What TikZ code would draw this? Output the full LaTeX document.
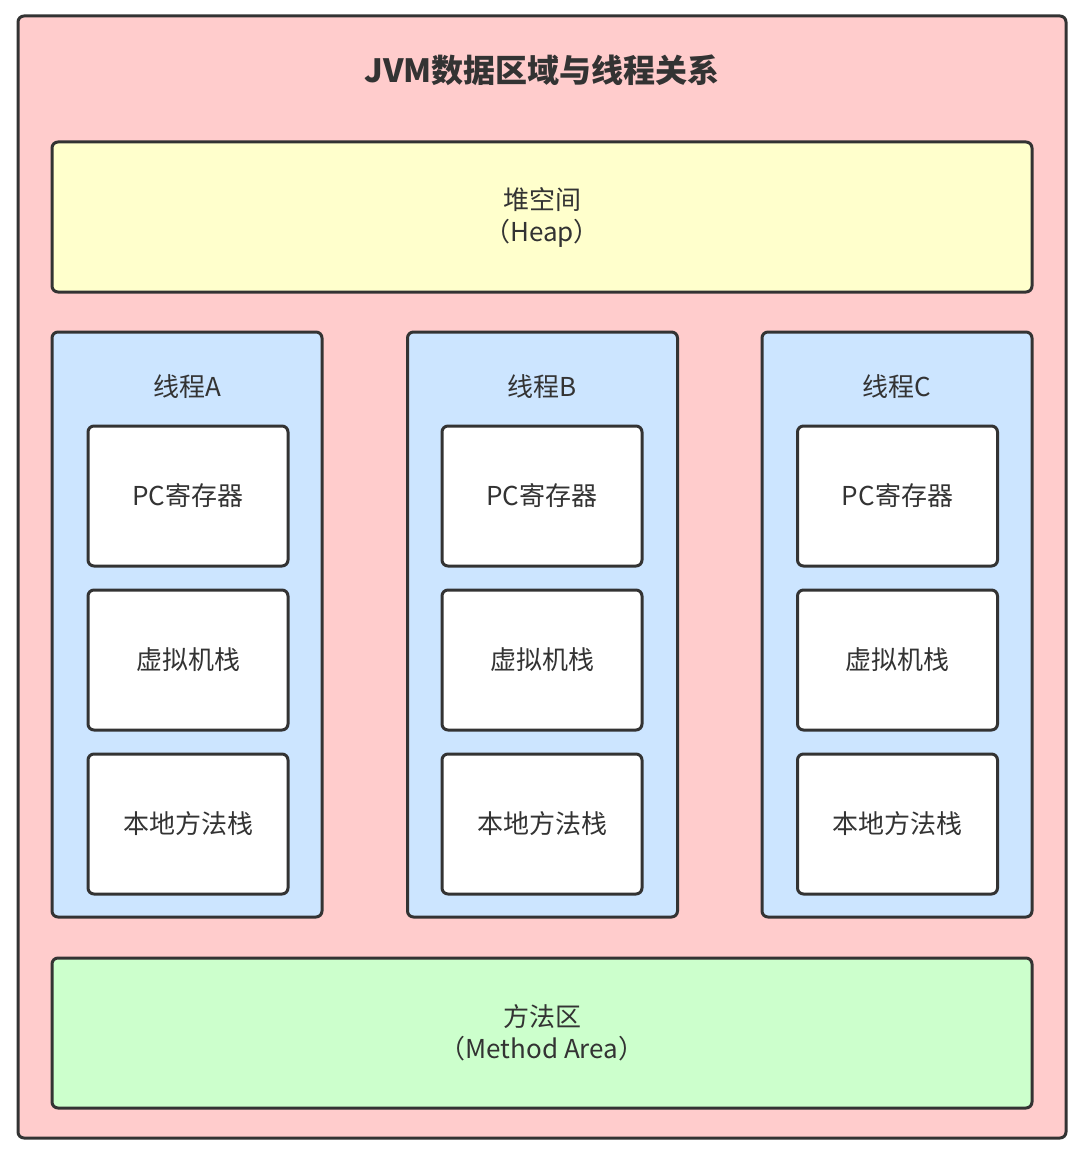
\documentclass[tikz,border=0pt]{standalone}
\usepackage{fontspec}
\setmainfont{Noto Sans CJK SC}
\usetikzlibrary{positioning}

\definecolor{linegray}{HTML}{333333}
\definecolor{jvmred}{HTML}{FFCCCC}
\definecolor{heapyellow}{HTML}{FFFFCC}
\definecolor{threadblue}{HTML}{CCE5FF}
\definecolor{methodgreen}{HTML}{CCFFCC}

\begin{document}
\begin{tikzpicture}[
            x=1pt,
            y=-1pt,
            every node/.style={
                    text=linegray,
                    align=center,
                    font=\fontsize{26}{32}\selectfont
                },
            box/.style={
                    rectangle,
                    rounded corners=6pt,
                    draw=linegray,
                    line width=3pt,
                    inner sep=0pt
                },
            jvm/.style={
                    box,
                    fill=jvmred,
                    minimum width=1048pt,
                    minimum height=1122pt
                },
            area/.style={
                    box,
                    minimum width=980pt,
                    minimum height=150pt
                },
            thread/.style={
                    box,
                    fill=threadblue,
                    minimum width=270pt,
                    minimum height=585pt
                },
            part/.style={
                    box,
                    fill=white,
                    minimum width=200pt,
                    minimum height=140pt
                },
            title/.style={
                    font=\fontsize{32}{36}\selectfont\bfseries
                }
        ]

        \useasboundingbox (0,0) rectangle (1086,1158);

        \node[jvm] (jvm) at (542,577) {};
        \node[title] (jvmtitle) at (542,70) {JVM数据区域与线程关系};

        \node[area,fill=heapyellow] (heap) at (542,217) {堆空间\\（Heap）};

        % 线程A
        \node[thread] (threadA) at (187,624.5) {};
        \node (labelA) at (187,387) {线程A};
        \node[part] (pcA) at (188,496) {PC寄存器};
        \node[part] (vmA) at (188,660) {虚拟机栈};
        \node[part] (nativeA) at (188,824) {本地方法栈};

        % 线程B
        \node[thread] (threadB) at (542.5,624.5) {};
        \node (labelB) at (542.5,387) {线程B};
        \node[part] (pcB) at (542,496) {PC寄存器};
        \node[part] (vmB) at (542,660) {虚拟机栈};
        \node[part] (nativeB) at (542,824) {本地方法栈};

        % 线程C
        \node[thread] (threadC) at (897,624.5) {};
        \node (labelC) at (897,387) {线程C};
        \node[part] (pcC) at (897.5,496) {PC寄存器};
        \node[part] (vmC) at (897.5,660) {虚拟机栈};
        \node[part] (nativeC) at (897.5,824) {本地方法栈};

        \node[area,fill=methodgreen] (method) at (542,1033) {方法区\\（Method Area）};

    \end{tikzpicture}
\end{document}
